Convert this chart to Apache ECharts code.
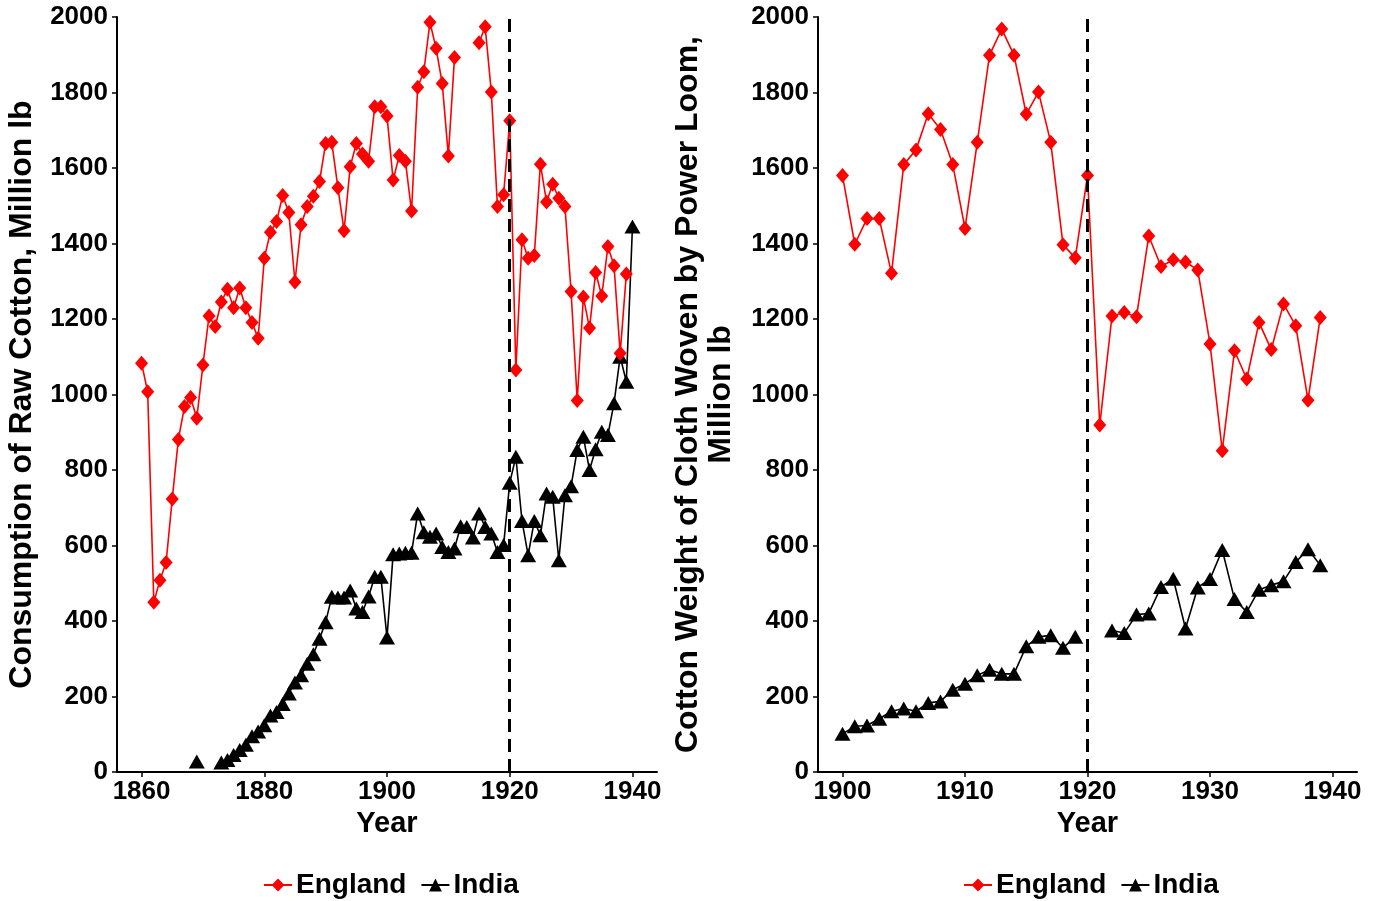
<!DOCTYPE html>
<html>
<head>
<meta charset="utf-8">
<script src="https://cdn.jsdelivr.net/npm/echarts@6/dist/echarts.min.js"></script>
<style>
html,body{margin:0;padding:0;background:#fff;}
#chart{width:1382px;height:901px;}
</style>
</head>
<body>
<div id="chart"></div>
<script>
// ---- data ----
var leftYears = [];
for (var y = 1860; y <= 1940; y++) leftYears.push(y);
var rightYears = [];
for (var y2 = 1900; y2 <= 1939; y2++) rightYears.push(y2);

// Consumption of raw cotton (million lb), 1860-1940
var englandRaw = [
  1083,1007,450,508,555,723,881,968,992,937,
  1078,1208,1180,1245,1279,1230,1282,1230,1191,1149,
  1361,1430,1458,1527,1482,1298,1450,1498,1525,1564,
  1665,1668,1548,1434,1603,1665,1637,1618,1762,1762,
  1738,1568,1633,1618,1486,1814,1855,1986,1917,1824,
  1632,1893,null,null,null,1932,1974,1801,1498,1529,
  1725,1065,1410,1361,1368,1610,1510,1557,1520,1498,
  1273,984,1258,1176,1323,1261,1392,1341,1109,1319,
  null
];
var indiaRaw = [
  null,null,null,null,null,null,null,null,null,28,
  null,null,null,25,32,45,58,72,95,107,
  124,150,159,180,208,237,256,287,312,353,
  397,464,462,462,481,433,424,465,517,517,
  356,577,579,581,581,685,635,623,632,596,
  583,592,651,649,621,685,649,632,583,601,
  766,835,665,574,665,627,738,729,561,733,
  757,853,888,800,855,901,893,977,1100,1034,
  1445
];
// Cotton weight of cloth woven by power loom (million lb), 1900-1939
var englandCloth = [
  1580,1398,1466,1466,1321,1609,1648,1744,1702,1609,
  1440,1668,1899,1968,1899,1743,1801,1668,1397,1362,
  1580,919,1208,1217,1206,1420,1339,1357,1351,1330,
  1134,851,1116,1041,1191,1119,1240,1182,985,1204
];
var indiaCloth = [
  101,121,123,141,161,168,161,183,187,218,
  234,256,271,260,260,333,358,362,329,358,
  null,null,375,368,417,420,490,512,380,489,
  511,588,458,424,483,495,505,556,590,548
];
var leftTicks = [1860,1880,1900,1920,1940];
var rightTicks = [1900,1910,1920,1930,1940];
var breakYear = 1920;
var seriesNames = ['England','India'];
var leftYTitle = 'Consumption of Raw Cotton, Million lb';
var rightYTitle = 'Cotton Weight of Cloth Woven by Power Loom,\nMillion lb';
var xTitle = 'Year';

function pairs(xs, vs){ return xs.map(function(x,i){ return [x, vs[i]==null ? null : vs[i]]; }); }
function plain(v){ return String(v); }

var FONT = "'Liberation Sans', Arial, Helvetica, sans-serif";
var RED = '#ff0000', BLACK = '#000000';

function xAxisCfg(grid, min, max, ticks){
  return {
    type:'value', gridIndex:grid, min:min, max:max,
    name:xTitle, nameLocation:'middle', nameGap:36,
    nameTextStyle:{fontFamily:FONT, fontWeight:'bold', fontSize:29, color:'#000'},
    axisLine:{show:true, onZero:false, lineStyle:{color:'#000', width:2}},
    axisTick:{show:true, length:5, lineStyle:{color:'#000', width:1.5}, customValues:ticks},
    axisLabel:{show:true, margin:7, fontFamily:FONT, fontWeight:'bold', fontSize:26, color:'#000', customValues:ticks, formatter:plain},
    splitLine:{show:false}
  };
}
function yAxisCfg(grid, name, gap){
  return {
    type:'value', gridIndex:grid, min:0, max:2000, interval:200,
    name:name, nameLocation:'middle', nameGap:gap, nameRotate:90,
    nameTextStyle:{fontFamily:FONT, fontWeight:'bold', fontSize:32, color:'#000', lineHeight:33, align:'center'},
    axisLine:{show:true, lineStyle:{color:'#000', width:2}},
    axisTick:{show:true, length:5, lineStyle:{color:'#000', width:1.5}},
    axisLabel:{margin:9, fontFamily:FONT, fontWeight:'bold', fontSize:26, color:'#000', formatter:plain},
    splitLine:{show:false}
  };
}
function engSeries(idx, data){
  return {
    name:seriesNames[0], type:'line', xAxisIndex:idx, yAxisIndex:idx, data:data,
    symbol:'diamond', symbolSize:[13,15], connectNulls:false,
    lineStyle:{color:RED, width:1.6}, itemStyle:{color:RED},
    emphasis:{disabled:true}, animation:false, z:3,
    markLine:{
      silent:true, symbol:['none','none'], label:{show:false},
      lineStyle:{color:BLACK, type:[13,7], width:3},
      data:[{xAxis:breakYear}]
    }
  };
}
function indSeries(idx, data){
  return {
    name:seriesNames[1], type:'line', xAxisIndex:idx, yAxisIndex:idx, data:data,
    symbol:'triangle', symbolSize:[16,14], connectNulls:false,
    lineStyle:{color:BLACK, width:1.6}, itemStyle:{color:BLACK},
    emphasis:{disabled:true}, animation:false, z:2
  };
}
function legendCfg(left){
  return {
    left:left, top:866, orient:'horizontal', itemWidth:28, itemHeight:16, itemGap:14,
    textStyle:{fontFamily:FONT, fontWeight:'bold', fontSize:28, color:'#000', padding:[0,0,0,-1]},
    data:seriesNames, selectedMode:false
  };
}

var chart = echarts.init(document.getElementById('chart'), null, {renderer:'canvas'});
chart.setOption({
  animation:false,
  backgroundColor:'#ffffff',
  grid:[
    {left:117, top:17, width:540, height:755, containLabel:false},
    {left:818, top:17, width:539, height:755, containLabel:false}
  ],
  xAxis:[ xAxisCfg(0,1856,1944,leftTicks), xAxisCfg(1,1898,1942,rightTicks) ],
  yAxis:[ yAxisCfg(0,leftYTitle,78), yAxisCfg(1,rightYTitle,80) ],
  legend:[ legendCfg(258), legendCfg(958) ],
  series:[
    engSeries(0, pairs(leftYears, englandRaw)),
    indSeries(0, pairs(leftYears, indiaRaw)),
    engSeries(1, pairs(rightYears, englandCloth)),
    indSeries(1, pairs(rightYears, indiaCloth))
  ]
});
</script>
</body>
</html>
